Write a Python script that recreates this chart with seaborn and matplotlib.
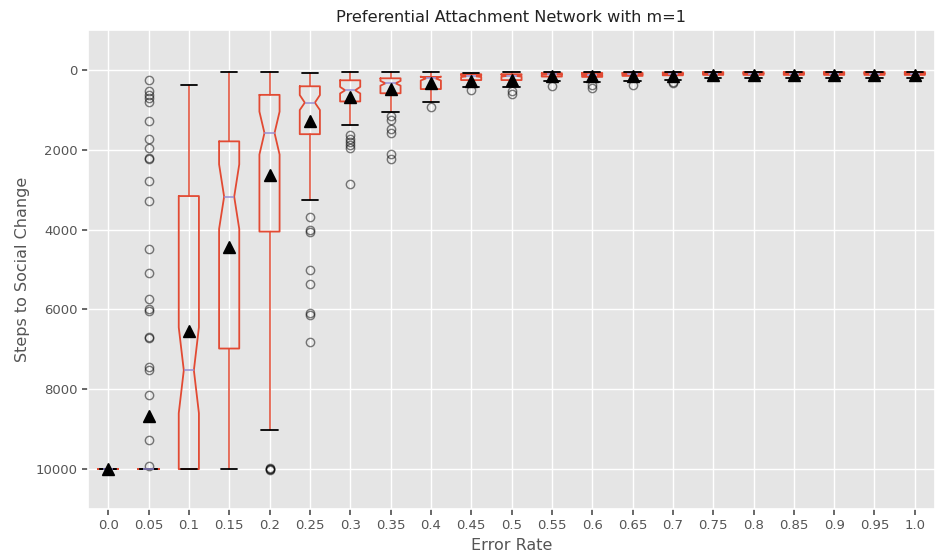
import matplotlib
matplotlib.use("Agg")
import matplotlib.pyplot as plt
import seaborn as sns

# error rates (x categories)
error_rates = ['0.0', '0.05', '0.1', '0.15', '0.2', '0.25', '0.3', '0.35', '0.4', '0.45', '0.5',
               '0.55', '0.6', '0.65', '0.7', '0.75', '0.8', '0.85', '0.9', '0.95', '1.0']

# box statistics (steps to social change)
whislo = [10000, 10000, 375, 50, 50, 80, 50, 50, 50, 80, 50,
          40, 40, 40, 40, 40, 40, 40, 40, 40, 40]
q1 = [10000, 10000, 3160, 1790, 625, 410, 260, 210, 175, 108, 108,
      83, 75, 75, 67, 55, 55, 55, 55, 55, 55]
med = [10000, 10000, 7525, 3175, 1580, 820, 510, 335, 215, 160, 150,
       110, 120, 110, 100, 92, 92, 92, 92, 92, 92]
q3 = [10000, 10000, 10000, 6980, 4050, 1610, 790, 585, 480, 255, 255,
      167, 175, 150, 135, 125, 125, 125, 125, 125, 125]
whishi = [10000, 10000, 10000, 10000, 9020, 3250, 1375, 1065, 815, 440, 440,
          280, 300, 280, 250, 200, 200, 200, 200, 200, 200]
means = [10000, 8675, 6550, 4440, 2630, 1275, 670, 480, 340, 270, 245,
         160, 160, 150, 140, 130, 130, 130, 130, 130, 130]
ci_lo = [10000, 10000, 6450, 2365, 1045, 630, 425, 275, 165, 140, 130,
         100, 110, 100, 90, 87, 87, 87, 87, 87, 87]
ci_hi = [10000, 10000, 8600, 3985, 2120, 1005, 590, 395, 265, 180, 170,
         120, 130, 120, 110, 97, 97, 97, 97, 97, 97]
outliers = [
    [],
    [250, 540, 625, 710, 800, 1280, 1720, 1950, 2200, 2230, 2780, 3290, 4490, 5080,
     5750, 5980, 6050, 6700, 6720, 7450, 7520, 8150, 9260, 9920],
    [],
    [],
    [9980, 10000, 10000, 10020],
    [3680, 4000, 4070, 5000, 5360, 6080, 6150, 6820],
    [1630, 1720, 1800, 1880, 1960, 2860],
    [1150, 1260, 1480, 1570, 2110, 2230],
    [920],
    [500],
    [530, 600],
    [400],
    [380, 460],
    [380],
    [300, 330],
    [], [], [], [], [], [],
]

sns.set_theme(style="darkgrid", rc={
    "axes.facecolor": "#E5E5E5",
    "grid.color": "white",
    "figure.facecolor": "white",
    "axes.edgecolor": "white",
    "xtick.color": "#555555",
    "ytick.color": "#555555",
    "axes.labelcolor": "#555555",
    "xtick.bottom": True,
    "ytick.left": True,
    "xtick.major.size": 4,
    "ytick.major.size": 4,
})
plt.rcParams['font.family'] = ['DejaVu Sans']

stats = []
for i in range(len(error_rates)):
    stats.append({
        'label': error_rates[i],
        'whislo': whislo[i], 'q1': q1[i], 'med': med[i], 'q3': q3[i], 'whishi': whishi[i],
        'mean': means[i], 'cilo': ci_lo[i], 'cihi': ci_hi[i], 'fliers': outliers[i],
    })

red = '#E24A33'
fig = plt.figure(figsize=(9.35, 5.56), dpi=100)
ax = fig.add_axes([88 / 935, 47 / 556, 847 / 935, 479 / 556])
ax.bxp(stats, shownotches=True, showmeans=True, capwidths=0.4,
       boxprops=dict(color=red, linewidth=1.3),
       whiskerprops=dict(color=red, linewidth=1.1),
       capprops=dict(color='black', linewidth=1.3),
       medianprops=dict(color='#988ED5', linewidth=1.1),
       meanprops=dict(marker='^', markerfacecolor='black', markeredgecolor='black', markersize=8.5),
       flierprops=dict(marker='o', markerfacecolor='none', markeredgecolor='black', alpha=0.5, markersize=6))

ax.set_ylim(11000, -1000)
ax.set_yticks([0, 2000, 4000, 6000, 8000, 10000])
ax.tick_params(labelsize=9.5)
ax.set_title('Preferential Attachment Network with m=1', fontsize=11.6, color='#222222')
ax.set_xlabel('Error Rate', fontsize=11.5)
ax.set_ylabel('Steps to Social Change', fontsize=11.5)

fig.savefig('out.png', dpi=100)
